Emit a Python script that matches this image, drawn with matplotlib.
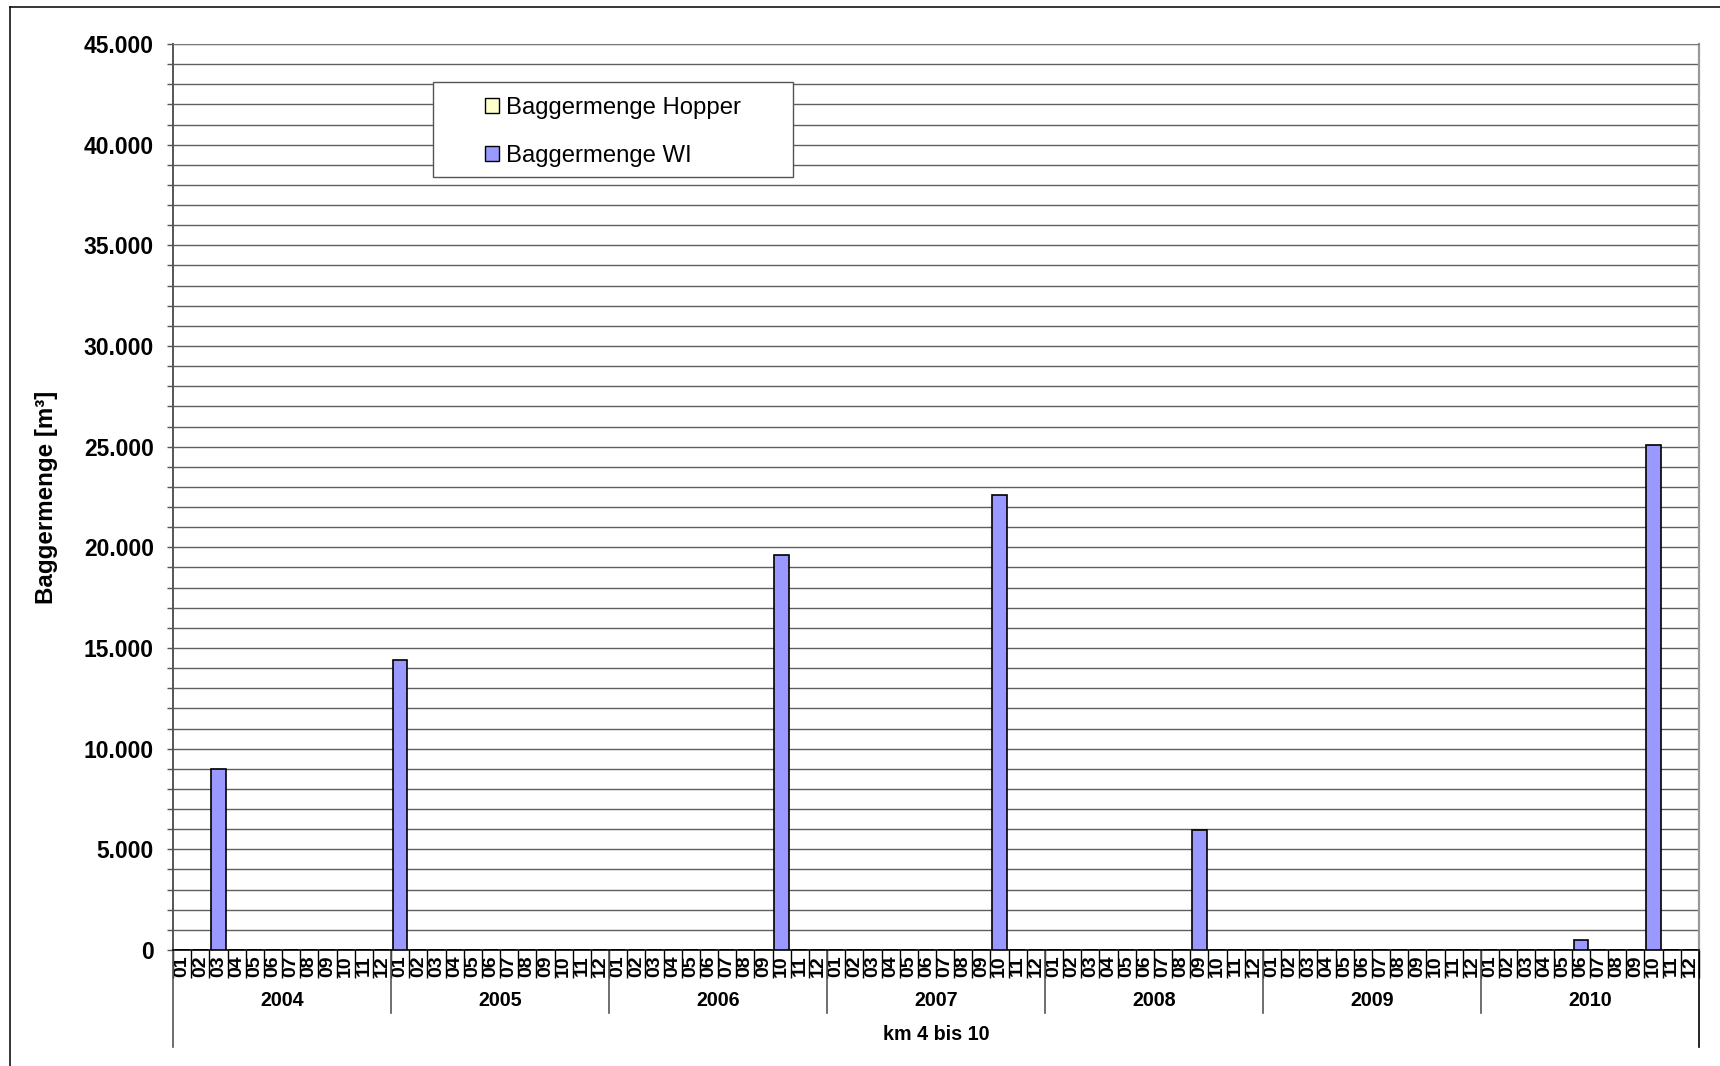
import matplotlib
matplotlib.use("Agg")
import matplotlib.pyplot as plt
import matplotlib.transforms as mtransforms
from matplotlib.lines import Line2D
from matplotlib.patches import Rectangle, Patch
from matplotlib.ticker import FixedLocator, FuncFormatter, MultipleLocator

plt.rcParams["font.family"] = ["Liberation Sans", "DejaVu Sans"]

years = ["2004", "2005", "2006", "2007", "2008", "2009", "2010"]
months = ["01", "02", "03", "04", "05", "06", "07", "08", "09", "10", "11", "12"]

# Baggermenge Hopper [m3], one row per year (Jan..Dec)
hopper = [
    0, 0, 0, 0, 0, 0, 0, 0, 0, 0, 0, 0,
    0, 0, 0, 0, 0, 0, 0, 0, 0, 0, 0, 0,
    0, 0, 0, 0, 0, 0, 0, 0, 0, 0, 0, 0,
    0, 0, 0, 0, 0, 0, 0, 0, 0, 0, 0, 0,
    0, 0, 0, 0, 0, 0, 0, 0, 0, 0, 0, 0,
    0, 0, 0, 0, 0, 0, 0, 0, 0, 0, 0, 0,
    0, 0, 0, 0, 0, 0, 0, 0, 0, 0, 0, 0,
]

# Baggermenge WI [m3], one row per year (Jan..Dec)
wi = [
    0, 0, 9000, 0, 0, 0, 0, 0, 0, 0, 0, 0,
    14400, 0, 0, 0, 0, 0, 0, 0, 0, 0, 0, 0,
    0, 0, 0, 0, 0, 0, 0, 0, 0, 19600, 0, 0,
    0, 0, 0, 0, 0, 0, 0, 0, 0, 22600, 0, 0,
    0, 0, 0, 0, 0, 0, 0, 0, 5950, 0, 0, 0,
    0, 0, 0, 0, 0, 0, 0, 0, 0, 0, 0, 0,
    0, 0, 0, 0, 0, 500, 0, 0, 0, 25100, 0, 0,
]

W, H = 1720, 1066
fig = plt.figure(figsize=(W / 100, H / 100), dpi=100)

# axes box in pixels: left 173, right 1699, top 44, bottom 950
ax_l, ax_r, ax_t, ax_b = 173, 1699, 44, 950
ax = fig.add_axes([ax_l / W, 1 - ax_b / H, (ax_r - ax_l) / W, (ax_b - ax_t) / H])

n = len(wi)
x = list(range(n))
ax.bar(x, hopper, width=0.8, color="#FFFFCC", edgecolor="black", linewidth=1.2, zorder=3)
ax.bar(x, wi, width=0.8, bottom=hopper, color="#9999FF", edgecolor="black", linewidth=1.2, zorder=3)

ax.set_xlim(-0.5, n - 0.5)
ax.set_ylim(0, 45000)

# y axis
ax.yaxis.set_major_locator(MultipleLocator(5000))
ax.yaxis.set_minor_locator(MultipleLocator(1000))
ax.yaxis.set_major_formatter(FuncFormatter(lambda v, p: f"{int(v):,}".replace(",", ".")))
ax.tick_params(axis="y", which="both", length=4.3, width=1.0, color="#555555", pad=9.4,
               labelsize=16.5)
for lab in ax.get_yticklabels():
    lab.set_fontweight("bold")
ax.grid(axis="y", which="both", color="#5f5f5f", linewidth=1.0, zorder=0)
ax.set_axisbelow(True)

# x axis: months
ax.set_xticks(x)
ax.set_xticklabels(months * len(years), rotation=90, fontsize=14, fontweight="bold")
ax.xaxis.set_minor_locator(FixedLocator([i - 0.5 for i in range(n + 1)]))
ax.tick_params(axis="x", which="major", length=0, pad=4)
ax.tick_params(axis="x", which="minor", length=20, width=1.0, color="black")

ax.spines["top"].set_color("#7a7a7a")
ax.spines["right"].set_color("#999999")
ax.spines["right"].set_linewidth(1.6)
ax.spines["left"].set_color("#555555")
ax.spines["left"].set_linewidth(1.4)
ax.spines["bottom"].set_color("black")
ax.spines["bottom"].set_linewidth(1.2)

# year groups
trans = mtransforms.blended_transform_factory(ax.transData, ax.transAxes)
px = 1 / (ax_b - ax_t)
for i, year in enumerate(years):
    start = i * 12 - 0.5
    ax.text(start + 6, -(1000 - ax_b) * px, year, transform=trans, ha="center", va="center",
            fontsize=14.2, fontweight="bold")
for i in range(len(years) + 1):
    bx = i * 12 - 0.5
    depth = 1047 if i in (0, len(years)) else 1013
    color = "black" if i == len(years) else "#555555"
    ax.plot([bx, bx], [0, -(depth - ax_b) * px], transform=trans, color=color,
            linewidth=1.2, clip_on=False)

ax.text(0.5, -(1035 - ax_b) * px, "km 4 bis 10", transform=ax.transAxes, ha="center",
        va="center", fontsize=14.2, fontweight="bold")

ax.set_ylabel("Baggermenge [m³]", fontsize=17.4, fontweight="bold")
ax.yaxis.set_label_coords((58 - ax_l) / (ax_r - ax_l), 0.5)

# legend box
lx0, ly0, lx1, ly1 = 433, 82, 793, 177
fig.add_artist(Rectangle((lx0 / W, 1 - ly1 / H), (lx1 - lx0) / W, (ly1 - ly0) / H,
                         transform=fig.transFigure, facecolor="white", edgecolor="#555555",
                         linewidth=1.0, zorder=2))
handles = [
    Patch(facecolor="#FFFFCC", edgecolor="black", linewidth=1.0, label="Baggermenge Hopper"),
    Patch(facecolor="#9999FF", edgecolor="black", linewidth=1.0, label="Baggermenge WI"),
]
fig.legend(handles=handles, loc="upper left", bbox_to_anchor=(485 / W, 1 - 97 / H),
           frameon=False, fontsize=17.2, handlelength=0.6, handleheight=0.6,
           handletextpad=0.3, labelspacing=1.1, borderpad=0, borderaxespad=0)

# outer frame: left and top edges (right and bottom edges lie outside the picture)
fx, fy = 9.5 / W, 1 - 6.5 / H
for xs, ys in [([fx, fx], [0, fy]), ([fx, 1], [fy, fy])]:
    fig.add_artist(Line2D(xs, ys, transform=fig.transFigure, color="black", linewidth=1.1))

fig.savefig("out.png", dpi=100)
